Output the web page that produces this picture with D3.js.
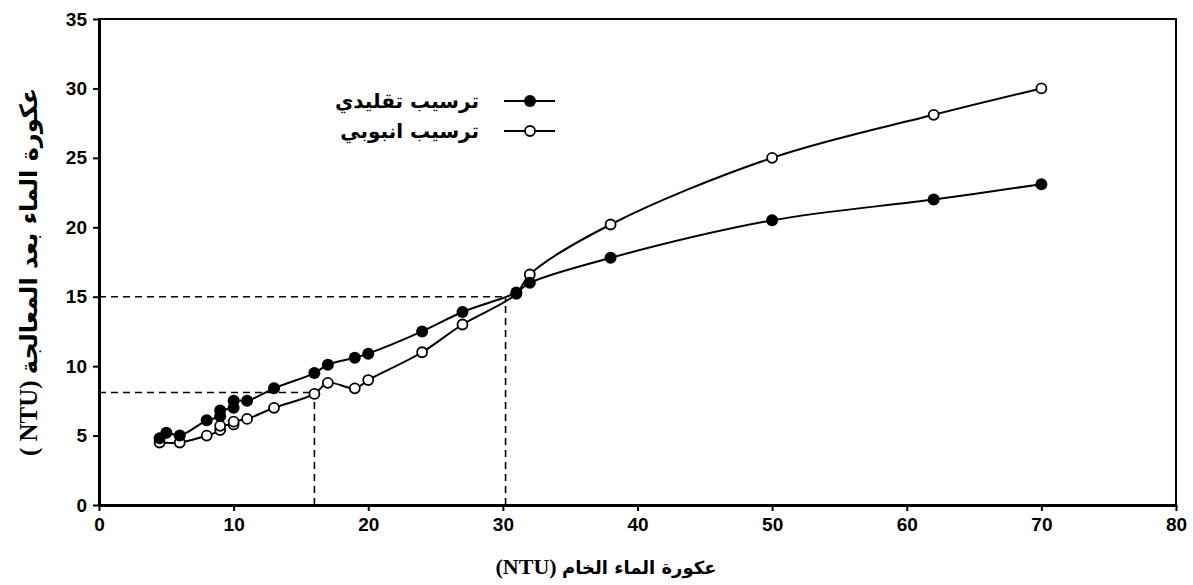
<!DOCTYPE html>
<html lang="ar">
<head>
<meta charset="UTF-8">
<title>عكورة الماء</title>
<script src="https://cdn.jsdelivr.net/npm/d3@7"></script>
<style>
  body { margin: 0; background: #fff; }
  svg text { fill: #000; }
  .tick text { font-family: "Liberation Sans", Arial, sans-serif; font-weight: bold; font-size: 19px; }
</style>
</head>
<body>
<svg id="chart" width="1193" height="585"></svg>
<script>
// raw water turbidity (x) vs turbidity after treatment (y), NTU
const conventionalX = [4.5, 5, 6, 8, 9, 9, 10, 10, 11, 13, 16, 17, 19, 20, 24, 27, 31, 32, 38, 50, 62, 70];
const conventionalY = [4.8, 5.2, 5.0, 6.1, 6.4, 6.8, 7.0, 7.5, 7.5, 8.4, 9.5, 10.1, 10.6, 10.9, 12.5, 13.9, 15.3, 16.0, 17.8, 20.5, 22.0, 23.1];
const tubeX = [4.5, 6, 8, 9, 9, 10, 10, 11, 13, 16, 17, 19, 20, 24, 27, 31, 32, 38, 50, 62, 70];
const tubeY = [4.5, 4.5, 5.0, 5.4, 5.7, 5.8, 6.0, 6.2, 7.0, 8.0, 8.8, 8.4, 9.0, 11.0, 13.0, 15.2, 16.6, 20.2, 25.0, 28.1, 30.0];

// reference (dashed) guides
const guideX = [16, 30.2];
const guideY = [8.1, 15];

const xTicks = [0, 10, 20, 30, 40, 50, 60, 70, 80];
const yTicks = [0, 5, 10, 15, 20, 25, 30, 35];

const seriesNames = ["ترسيب تقليدي", "ترسيب انبوبي"];
const xTitle = "عكورة الماء الخام";
const yTitle = "عكورة الماء بعد المعالجة";

const margin = { top: 19, right: 17, bottom: 80, left: 99 };
const W = 1193, H = 585;
const svg = d3.select("#chart");

const x = d3.scaleLinear().domain([0, 80]).range([margin.left, W - margin.right]);
const y = d3.scaleLinear().domain([0, 35]).range([H - margin.bottom, margin.top]);

// frame top/right
svg.append("rect")
  .attr("x", x(0)).attr("y", y(35))
  .attr("width", x(80) - x(0)).attr("height", y(0) - y(35))
  .attr("fill", "none").attr("stroke", "#000").attr("stroke-width", 2);

// dashed guides
const guides = svg.append("g").attr("stroke", "#000").attr("stroke-width", 1.6).attr("stroke-dasharray", "7,5").attr("fill", "none");
guideX.forEach((gx, i) => {
  guides.append("line").attr("x1", x(0)).attr("x2", x(gx)).attr("y1", y(guideY[i])).attr("y2", y(guideY[i]));
  guides.append("line").attr("x1", x(gx)).attr("x2", x(gx)).attr("y1", y(0)).attr("y2", y(guideY[i]));
});

// axes
const xAxis = svg.append("g")
  .attr("transform", `translate(0,${y(0)})`)
  .call(d3.axisBottom(x).tickValues(xTicks).tickSize(6).tickSizeOuter(0).tickPadding(7));
const yAxis = svg.append("g")
  .attr("transform", `translate(${x(0)},0)`)
  .call(d3.axisLeft(y).tickValues(yTicks).tickSize(6).tickSizeOuter(0).tickPadding(6));
[xAxis, yAxis].forEach(a => {
  a.select(".domain").attr("stroke-width", 3);
  a.selectAll(".tick line").attr("stroke-width", 2);
});

// series
const line = d3.line().x(d => x(d[0])).y(d => y(d[1])).curve(d3.curveCatmullRom.alpha(0.5));
const conventional = conventionalX.map((v, i) => [v, conventionalY[i]]);
const tube = tubeX.map((v, i) => [v, tubeY[i]]);

svg.append("path").datum(tube).attr("d", line)
  .attr("fill", "none").attr("stroke", "#000").attr("stroke-width", 2);
svg.append("path").datum(conventional).attr("d", line)
  .attr("fill", "none").attr("stroke", "#000").attr("stroke-width", 2);

svg.append("g").selectAll("circle").data(tube).join("circle")
  .attr("cx", d => x(d[0])).attr("cy", d => y(d[1])).attr("r", 5)
  .attr("fill", "#fff").attr("stroke", "#000").attr("stroke-width", 1.8);
svg.append("g").selectAll("circle").data(conventional).join("circle")
  .attr("cx", d => x(d[0])).attr("cy", d => y(d[1])).attr("r", 6)
  .attr("fill", "#000");

// legend
const legend = svg.append("g");
seriesNames.forEach((name, i) => {
  const ly = 101 + i * 30;
  legend.append("line").attr("x1", 504).attr("x2", 555).attr("y1", ly).attr("y2", ly)
    .attr("stroke", "#000").attr("stroke-width", 2);
  if (i === 0) {
    legend.append("circle").attr("cx", 530).attr("cy", ly).attr("r", 6).attr("fill", "#000");
  } else {
    legend.append("circle").attr("cx", 530).attr("cy", ly).attr("r", 5)
      .attr("fill", "#fff").attr("stroke", "#000").attr("stroke-width", 1.8);
  }
  legend.append("text").attr("x", 479).attr("y", ly + 7)
    .attr("text-anchor", "end")
    .style("font-family", "'DejaVu Sans', sans-serif").style("font-weight", "bold").style("font-size", "20px")
    .text(name);
});

// axis titles
const xt = svg.append("text").attr("x", 606).attr("y", 574).attr("text-anchor", "middle")
  .style("font-weight", "bold");
xt.append("tspan").style("font-family", "'Liberation Serif', serif").style("font-size", "22px").text("(NTU) ");
xt.append("tspan").style("font-family", "'DejaVu Sans', sans-serif").style("font-size", "18px").text(xTitle);

const yt = svg.append("text").attr("transform", "translate(37,272) rotate(-90)")
  .attr("text-anchor", "middle").style("font-weight", "bold");
yt.append("tspan").style("font-family", "'Liberation Serif', serif").style("font-size", "25px").text("( NTU) ");
yt.append("tspan").style("font-family", "'DejaVu Sans', sans-serif").style("font-size", "24px").text(yTitle);
</script>
</body>
</html>
